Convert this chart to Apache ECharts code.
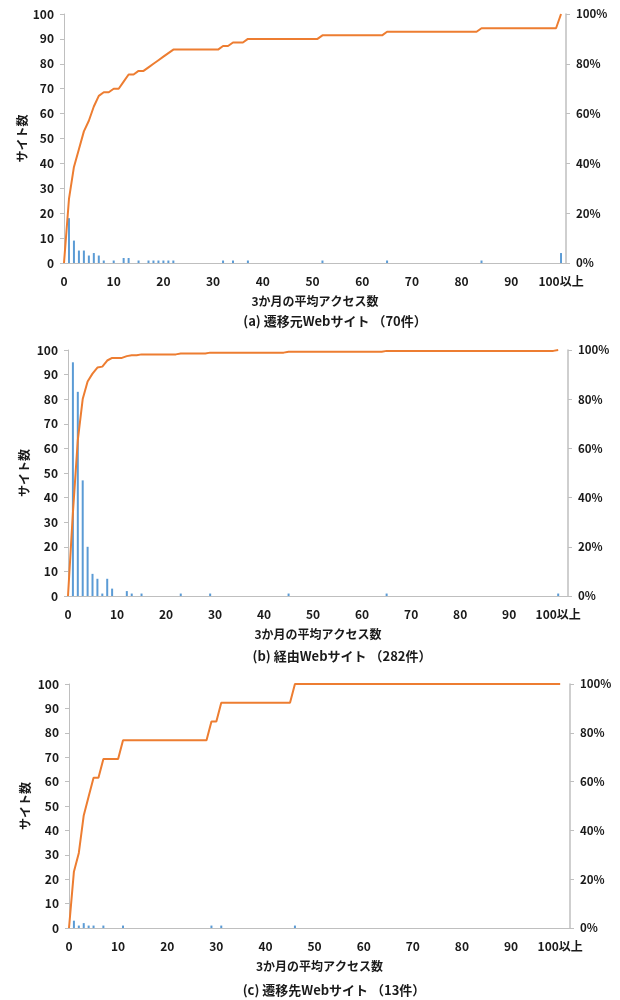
<!DOCTYPE html>
<html><head><meta charset="utf-8">
<script src="https://cdn.jsdelivr.net/npm/echarts@6/dist/echarts.min.js"></script>
<style>html,body{margin:0;padding:0;background:#fff}#c{width:620px;height:1000px}</style>
</head><body><div id="c"></div>
<script>
// x tick labels (every 10 accesses)
const xTickLabels = ['0','10','20','30','40','50','60','70','80','90','100以上'];
const yAxisName = 'サイト数';
const xAxisName = '3か月の平均アクセス数';
const captions = ['(a) 遷移元Webサイト （70件）', '(b) 経由Webサイト （282件）', '(c) 遷移先Webサイト （13件）'];

// (a) source sites: average access count -> number of sites
const aAccess = [1,2,3,4,5,6,7,8,10,12,13,15,17,18,19,20,21,22,32,34,37,52,65,84,100];
const aSites  = [18,9,5,5,3,4,3,1,1,2,2,1,1,1,1,1,1,1,1,1,1,1,1,1,4];
// (b) transit sites
const bAccess = [1,2,3,4,5,6,7,8,9,12,13,15,23,29,45,65,100];
const bSites  = [95,83,47,20,9,7,1,7,3,2,1,1,1,1,1,1,1];
// (c) destination sites
const cAccess = [1,2,3,4,5,7,11,29,31,46];
const cSites  = [3,1,2,1,1,1,1,1,1,1];

const FONT = "'Noto Sans CJK JP', 'Noto Sans', sans-serif";
const TXT = '#1a1a1a';
const BAR = '#5b9bd5', LINE = '#ed7d31', AX = '#bfbfbf';

function cumulative(acc, sites) {
  const total = sites.reduce((s, v) => s + v, 0);
  const out = [];
  let run = 0;
  for (let i = 0; i <= 100; i++) {
    const k = acc.indexOf(i);
    if (k >= 0) run += sites[k];
    out.push([i, run / total * 100]);
  }
  return out;
}

const panels = [
  {acc: aAccess, sites: aSites, grid: {left: 64, right: 54, top: 14, height: 249}, xmax: 101, yGap: 36},
  {acc: bAccess, sites: bSites, grid: {left: 68, right: 52, top: 350, height: 246}, xmax: 102, yGap: 38},
  {acc: cAccess, sites: cSites, grid: {left: 69, right: 50, top: 684, height: 244}, xmax: 102, yGap: 38}
];
const capY = [321, 656, 990];
const capX = [335, 342, 334];

const grid = [], xAxis = [], yAxis = [], series = [], graphic = [];
const lbl = {color: TXT, fontFamily: FONT, fontWeight: 'bold', fontSize: 12};
panels.forEach((p, i) => {
  grid.push(p.grid);
  xAxis.push({
    type: 'value', gridIndex: i, min: 0, max: p.xmax, interval: 10,
    axisLine: {show: true, lineStyle: {color: AX, width: 1}},
    axisTick: {show: false}, splitLine: {show: false},
    axisLabel: Object.assign({}, lbl, {margin: 12, showMaxLabel: true,
      formatter: v => (v <= 100 && v % 10 === 0) ? xTickLabels[v / 10] : ''}),
    name: xAxisName, nameLocation: 'middle', nameGap: 32, nameMoveOverlap: false,
    nameTextStyle: {color: TXT, fontFamily: FONT, fontWeight: 'bold', fontSize: 12}
  });
  yAxis.push({
    type: 'value', gridIndex: i, min: 0, max: 100, interval: 10,
    axisLine: {show: true, lineStyle: {color: AX}},
    axisTick: {show: true, length: 4, lineStyle: {color: AX}},
    splitLine: {show: false},
    axisLabel: Object.assign({}, lbl, {margin: 10}),
    name: yAxisName, nameLocation: 'middle', nameGap: p.yGap, nameRotate: 90, nameMoveOverlap: false,
    nameTextStyle: {color: TXT, fontFamily: FONT, fontWeight: 'bold', fontSize: 12}
  });
  yAxis.push({
    type: 'value', gridIndex: i, position: 'right', min: 0, max: 100, interval: 20,
    axisLine: {show: true, lineStyle: {color: AX, width: 1.5}},
    axisTick: {show: true, length: 4, lineStyle: {color: AX}},
    splitLine: {show: false},
    axisLabel: Object.assign({}, lbl, {margin: 10, fontSize: 11.5, formatter: '{value}%'})
  });
  series.push({
    type: 'bar', xAxisIndex: i, yAxisIndex: 2 * i, barWidth: 2,
    itemStyle: {color: BAR},
    data: p.acc.map((x, k) => [x, p.sites[k]]),
    silent: true, animation: false
  });
  series.push({
    type: 'line', xAxisIndex: i, yAxisIndex: 2 * i + 1, symbol: 'none',
    lineStyle: {color: LINE, width: 2}, data: cumulative(p.acc, p.sites),
    silent: true, animation: false
  });
  graphic.push({
    type: 'text', x: capX[i], y: capY[i],
    style: {text: captions[i], align: 'center', verticalAlign: 'middle',
      font: "bold 13px " + FONT, fill: TXT}
  });
});

const chart = echarts.init(document.getElementById('c'), null, {renderer: 'canvas'});
chart.setOption({animation: false, grid, xAxis, yAxis, series, graphic});
</script></body></html>
